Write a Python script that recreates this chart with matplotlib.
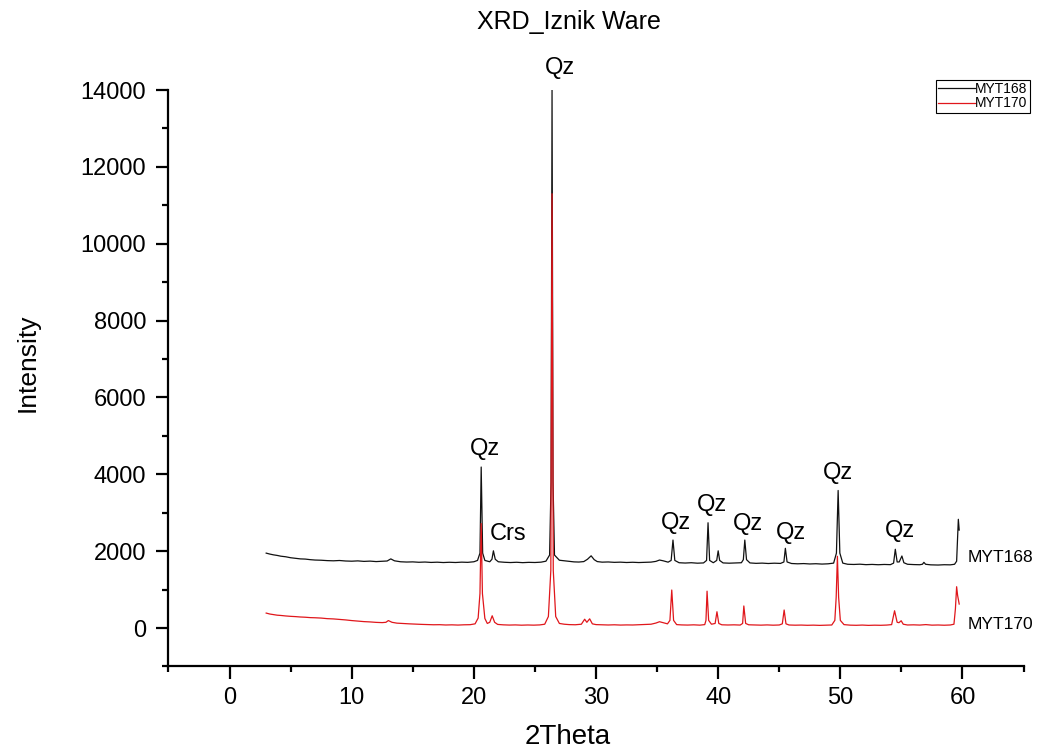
import matplotlib
matplotlib.use("Agg")
import matplotlib.pyplot as plt
from matplotlib.ticker import MultipleLocator

plt.rcParams['font.family'] = ['Liberation Sans', 'DejaVu Sans']

# ---- data ----
x168 = [3.0, 3.3, 3.6, 3.9, 4.2, 4.6, 5.0, 5.4, 5.8, 6.2, 6.6, 7.0, 7.5, 8.0, 8.5, 9.0, 9.5, 10.0,
        10.5, 11.0, 11.5, 12.0, 12.5, 12.9, 13.2, 13.5, 14.0, 14.5, 15.0, 15.5, 16.0, 16.5, 17.0,
        17.5, 18.0, 18.5, 19.0, 19.5, 20.0, 20.3, 20.5, 20.6, 20.72, 20.9, 21.3, 21.48, 21.6, 21.75,
        22.0, 22.5, 23.0, 23.5, 24.0, 24.5, 25.0, 25.5, 25.9, 26.2, 26.32, 26.4, 26.48, 26.6, 27.0,
        27.4, 27.8, 28.2, 28.6, 29.0, 29.3, 29.6, 29.85, 30.1, 30.5, 31.0, 31.5, 32.0, 32.5, 33.0,
        33.5, 34.0, 34.5, 34.9, 35.2, 35.5, 35.9, 36.15, 36.3, 36.45, 36.8, 37.3, 37.8, 38.3, 38.8,
        39.05, 39.17, 39.3, 39.6, 39.88, 40.0, 40.12, 40.4, 40.9, 41.4, 41.9, 42.06, 42.18, 42.32,
        42.6, 43.1, 43.6, 44.1, 44.6, 45.1, 45.38, 45.5, 45.64, 46.0, 46.5, 47.0, 47.5, 48.0, 48.5,
        49.0, 49.45, 49.68, 49.82, 49.96, 50.2, 50.6, 51.1, 51.6, 52.1, 52.6, 53.1, 53.6, 54.1,
        54.36, 54.5, 54.65, 54.82, 55.04, 55.2, 55.5, 56.0, 56.5, 56.72, 56.84, 56.98, 57.4, 58.0,
        58.5, 59.0, 59.35, 59.52, 59.6, 59.66, 59.73]
y168 = [1950, 1925, 1905, 1890, 1870, 1855, 1830, 1815, 1800, 1795, 1780, 1770, 1765, 1755, 1750,
        1758, 1745, 1740, 1748, 1735, 1742, 1730, 1738, 1745, 1800, 1750, 1725, 1718, 1722, 1712,
        1718, 1708, 1714, 1705, 1712, 1706, 1715, 1710, 1725, 1760, 1950, 4190, 1950, 1760, 1725,
        1790, 2010, 1790, 1725, 1712, 1705, 1712, 1702, 1710, 1706, 1715, 1740, 1900, 3800, 14000,
        3800, 1900, 1765, 1750, 1735, 1722, 1718, 1730, 1790, 1880, 1780, 1730, 1715, 1720, 1710,
        1715, 1706, 1712, 1705, 1710, 1716, 1735, 1770, 1750, 1715, 1760, 2290, 1760, 1700, 1692,
        1700, 1688, 1695, 1760, 2740, 1760, 1700, 1760, 2010, 1760, 1695, 1688, 1695, 1700, 1780,
        2290, 1780, 1695, 1684, 1690, 1680, 1688, 1682, 1720, 2075, 1720, 1680, 1672, 1678, 1668,
        1674, 1665, 1672, 1690, 1950, 3580, 1950, 1690, 1660, 1655, 1662, 1650, 1656, 1648, 1655,
        1650, 1690, 2050, 1720, 1720, 1875, 1700, 1660, 1652, 1648, 1660, 1710, 1660, 1645, 1640,
        1648, 1645, 1660, 1740, 2400, 2830, 2550]

x170 = [3.0, 3.3, 3.6, 3.9, 4.2, 4.6, 5.0, 5.4, 5.8, 6.2, 6.6, 7.0, 7.5, 8.0, 8.5, 9.0, 9.5, 10.0,
        10.5, 11.0, 11.5, 12.0, 12.5, 12.8, 13.0, 13.3, 13.7, 14.2, 14.7, 15.2, 15.7, 16.2, 16.7,
        17.2, 17.7, 18.2, 18.7, 19.2, 19.7, 20.1, 20.35, 20.5, 20.6, 20.7, 20.9, 21.1, 21.3, 21.5,
        21.7, 21.95, 22.4, 22.9, 23.4, 23.9, 24.4, 24.9, 25.4, 25.8, 26.1, 26.3, 26.4, 26.5, 26.7,
        27.0, 27.4, 27.8, 28.3, 28.8, 29.07, 29.25, 29.48, 29.7, 30.0, 30.5, 31.0, 31.5, 32.0, 32.5,
        33.0, 33.5, 34.0, 34.5, 34.9, 35.2, 35.5, 35.85, 36.05, 36.2, 36.35, 36.6, 37.0, 37.5, 38.0,
        38.5, 38.9, 39.0, 39.09, 39.22, 39.45, 39.75, 39.9, 40.05, 40.3, 40.8, 41.3, 41.8, 42.0,
        42.1, 42.25, 42.5, 43.0, 43.5, 44.0, 44.5, 45.0, 45.25, 45.4, 45.55, 45.8, 46.3, 46.8, 47.3,
        47.8, 48.3, 48.8, 49.3, 49.55, 49.66, 49.76, 49.86, 50.0, 50.3, 50.8, 51.3, 51.8, 52.3, 52.8,
        53.3, 53.8, 54.2, 54.44, 54.65, 54.8, 54.98, 55.15, 55.5, 56.0, 56.5, 57.0, 57.5, 58.0, 58.5,
        59.0, 59.3, 59.42, 59.52, 59.6, 59.73]
y170 = [390, 365, 350, 335, 328, 315, 305, 298, 288, 282, 272, 268, 260, 245, 238, 225, 212, 195,
        182, 168, 160, 148, 142, 150, 195, 150, 128, 118, 110, 102, 96, 92, 86, 88, 80, 84, 78, 85,
        88, 110, 260, 900, 2720, 900, 250, 120, 150, 320, 150, 95, 84, 78, 82, 75, 80, 76, 82, 100,
        300, 1500, 11300, 1500, 300, 120, 100, 90, 86, 100, 230, 150, 240, 110, 90, 84, 80, 85, 78,
        82, 80, 86, 90, 100, 130, 165, 140, 110, 200, 990, 200, 90, 82, 78, 84, 76, 90, 200, 960,
        200, 100, 120, 425, 120, 85, 80, 84, 78, 120, 575, 120, 85, 80, 76, 82, 75, 80, 110, 470,
        110, 80, 75, 78, 72, 76, 70, 75, 80, 200, 800, 1867, 800, 200, 90, 76, 72, 78, 70, 75, 72,
        78, 90, 450, 150, 140, 190, 100, 80, 84, 78, 90, 76, 80, 74, 80, 100, 500, 1076, 850, 625]

series_names = ["MYT168", "MYT170"]
series_colors = ["#111111", "#e0161b"]

peak_labels = ["Qz", "Qz", "Crs", "Qz", "Qz", "Qz", "Qz", "Qz", "Qz"]
label_x = [27.03, 20.93, 22.77, 36.53, 39.48, 42.42, 45.95, 49.8, 54.9]
label_y = [14576, 4654, 2440, 2740, 3208, 2700, 2480, 4030, 2530]

xticks = [0, 10, 20, 30, 40, 50, 60]
yticks = [0, 2000, 4000, 6000, 8000, 10000, 12000, 14000]

# ---- figure ----
fig = plt.figure(figsize=(10.38, 7.52), dpi=100)
ax = fig.add_axes([0.1623, 0.1137, 0.8238, 0.7666])

ax.plot(x168, y168, color=series_colors[0], lw=0.9, label=series_names[0], zorder=2)
ax.plot(x170, y170, color=series_colors[1], lw=0.9, label=series_names[1], zorder=3)

ax.set_xlim(-5, 65)
ax.set_ylim(-1000, 14000)
ax.set_xticks(xticks)
ax.set_yticks(yticks)
ax.xaxis.set_minor_locator(MultipleLocator(5))
ax.yaxis.set_minor_locator(MultipleLocator(1000))

for s in ['top', 'right']:
    ax.spines[s].set_visible(False)
for s in ['left', 'bottom']:
    ax.spines[s].set_linewidth(1.6)

ax.tick_params(axis='both', which='major', direction='out', length=9, width=1.6,
               labelsize=17, colors='black')
ax.tick_params(axis='both', which='minor', direction='out', length=4.5, width=1.6)
ax.tick_params(axis='y', which='major', pad=7)
ax.tick_params(axis='x', which='major', pad=6)

for t, xx, yy in zip(peak_labels, label_x, label_y):
    ax.text(xx, yy, t, fontsize=17, ha='center', va='center')

ax.text(60.44, 1841, series_names[0], fontsize=12.5, ha='left', va='center')
ax.text(60.44, 96, series_names[1], fontsize=12.5, ha='left', va='center')

fig.text(0.548, 0.971, "XRD_Iznik Ware", fontsize=18, ha='center', va='center')
fig.text(0.547, 0.020, "2Theta", fontsize=20, ha='center', va='center')
fig.text(0.027, 0.518, "Intensity", fontsize=19, rotation=90, ha='center', va='center')

leg = ax.legend(loc='upper right', bbox_to_anchor=(0.992, 0.894), bbox_transform=fig.transFigure,
                fontsize=10, frameon=True, fancybox=False, edgecolor='black', framealpha=1,
                handlelength=2.6, handletextpad=0.05, borderpad=0.15, labelspacing=0.05,
                borderaxespad=0)
leg.get_frame().set_linewidth(0.8)

fig.savefig("out.png", dpi=100)
